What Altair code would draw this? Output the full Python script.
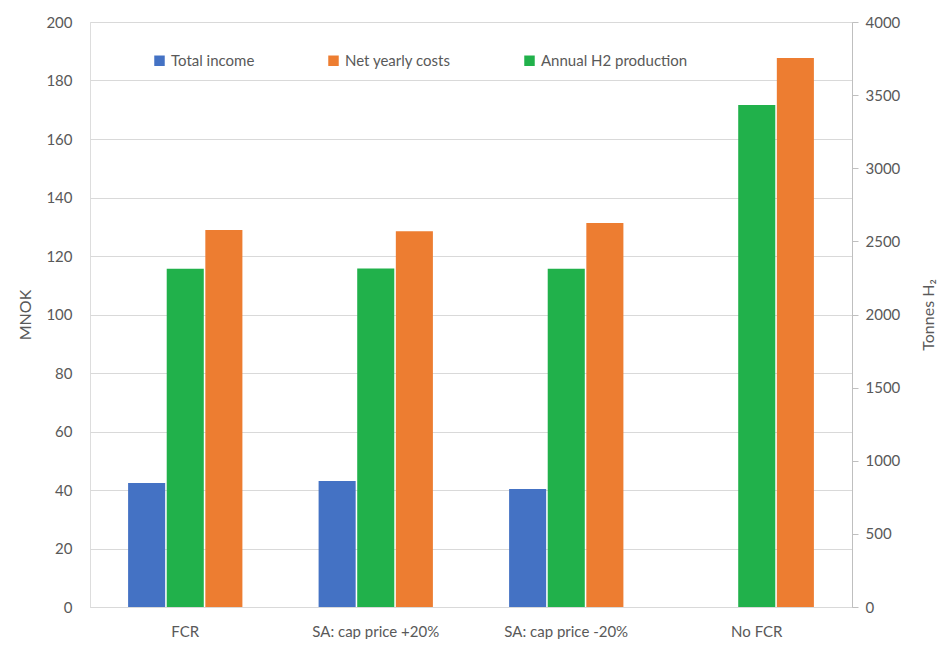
import altair as alt
import pandas as pd

categories = ["FCR", "SA: cap price +20%", "SA: cap price -20%", "No FCR"]
total_income = [42.4, 43.1, 40.3, 0.0]
net_yearly_costs = [128.9, 128.5, 131.3, 187.7]
annual_h2 = [2312, 2315, 2312, 3432]

series_order = ["Total income", "Annual H2 production", "Net yearly costs"]
legend_order = ["Total income", "Net yearly costs", "Annual H2 production"]
legend_colors = ["#4472C4", "#ED7D31", "#21B14B"]

rows = []
for i, c in enumerate(categories):
    rows.append({"category": c, "series": "Total income", "value": total_income[i]})
    rows.append({"category": c, "series": "Net yearly costs", "value": net_yearly_costs[i]})
    rows.append({"category": c, "series": "Annual H2 production", "value": annual_h2[i]})
df = pd.DataFrame(rows)

FONT = "Lato"
GRAY = "#595959"

x_enc = alt.X(
    "category:N",
    sort=categories,
    scale=alt.Scale(paddingInner=0.4, paddingOuter=0.2),
    axis=alt.Axis(title=None, labelAngle=0, ticks=False, domainColor="#d9d9d9",
                  labelPadding=17, labelFontSize=15, labelColor=GRAY, labelFont=FONT),
)
xoff = alt.XOffset("series:N", scale=alt.Scale(domain=series_order, paddingInner=0.04))
color = alt.Color(
    "series:N",
    scale=alt.Scale(domain=legend_order, range=legend_colors),
    legend=alt.Legend(
        title=None, orient="none", legendX=62, legendY=31, direction="horizontal",
        symbolType="square", symbolSize=110, symbolStrokeWidth=0,
        labelFontSize=15, labelColor=GRAY, labelFont=FONT, columnPadding=71,
        symbolOpacity=1,
    ),
)

base = alt.Chart(df)

money = base.transform_filter(
    alt.FieldOneOfPredicate(field="series", oneOf=["Total income", "Net yearly costs"])
).mark_bar().encode(
    x=x_enc,
    xOffset=xoff,
    y=alt.Y(
        "value:Q",
        scale=alt.Scale(domain=[0, 200]),
        axis=alt.Axis(title="MNOK", values=list(range(0, 201, 20)), ticks=False, domain=False,
                      gridColor="#d9d9d9", labelPadding=18, labelFontSize=15, labelColor=GRAY,
                      labelFont=FONT, titleFont=FONT, titleFontSize=16, titleFontWeight="normal",
                      titleColor=GRAY, titlePadding=12),
    ),
    color=color,
)

h2 = base.transform_filter(
    alt.FieldEqualPredicate(field="series", equal="Annual H2 production")
).mark_bar().encode(
    x=x_enc,
    xOffset=xoff,
    y=alt.Y(
        "value:Q",
        scale=alt.Scale(domain=[0, 4000]),
        axis=alt.Axis(orient="right", title="Tonnes H₂", values=list(range(0, 4001, 500)),
                      format="d", titleAngle=270, titleBaseline="bottom",
                      grid=False, ticks=True, tickSize=6, tickColor="#bfbfbf", domainColor="#bfbfbf",
                      labelPadding=7, labelFontSize=15, labelColor=GRAY, labelFont=FONT,
                      titleFont=FONT, titleFontSize=16, titleFontWeight="normal", titleColor=GRAY,
                      titlePadding=37),
    ),
    color=color,
)

chart = alt.layer(money, h2).resolve_scale(y="independent").properties(
    width=762,
    height=585,
    autosize=alt.AutoSizeParams(type="none"),
    padding={"left": 82, "top": 14, "right": 91, "bottom": 32},
).configure_view(stroke=None).configure(background="white")

chart.save("out.html", embed_options={"renderer": "svg", "actions": False})
